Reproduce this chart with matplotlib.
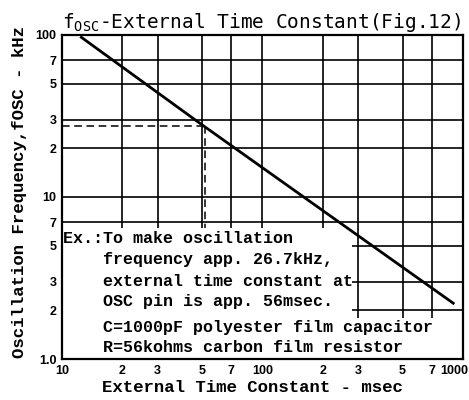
import matplotlib.pyplot as plt
import matplotlib.transforms as mtransforms
from matplotlib.patches import Rectangle

# values
line_t = [12.5, 48.8, 895]        # msec
line_f = [96.8, 28.5, 2.21]       # kHz
ex_t = 52
ex_f = 27.5

x_ticks = [10, 20, 30, 50, 70, 100, 200, 300, 500, 700, 1000]
x_labels = ["10", "2", "3", "5", "7", "100", "2", "3", "5", "7", "1000"]
y_ticks = [1, 2, 3, 5, 7, 10, 20, 30, 50, 70, 100]
y_labels = ["1.0", "2", "3", "5", "7", "10", "2", "3", "5", "7", "100"]

note1 = ["Ex.:To make oscillation",
         "    frequency app. 26.7kHz,",
         "    external time constant at",
         "    OSC pin is app. 56msec."]
note2 = ["    C=1000pF polyester film capacitor",
         "    R=56kohms carbon film resistor"]

plt.rcParams['mathtext.fontset'] = 'custom'
plt.rcParams['mathtext.rm'] = 'DejaVu Sans Mono'

fig = plt.figure(figsize=(4.69, 4.0), dpi=100)
ax = fig.add_axes([0.132, 0.1025, 0.855, 0.81])
ax.set_xscale('log')
ax.set_yscale('log')
ax.set_xlim(10, 1000)
ax.set_ylim(1, 100)

ax.set_xticks(x_ticks)
ax.set_xticklabels(x_labels)
ax.set_yticks(y_ticks)
ax.set_yticklabels(y_labels)
ax.minorticks_off()
ax.tick_params(length=0, pad=4)
for lab in ax.get_xticklabels() + ax.get_yticklabels():
    lab.set_fontfamily('Liberation Sans')
    lab.set_fontweight('bold')
    lab.set_fontsize(9)
# keep the last x label inside the figure
last = ax.get_xticklabels()[-1]
last.set_transform(last.get_transform() +
                   mtransforms.ScaledTranslation(-9 / 100, 0, fig.dpi_scale_trans))

ax.grid(True, color='black', lw=1.2, zorder=1)
for sp in ax.spines.values():
    sp.set_linewidth(1.6)

ax.plot(line_t, line_f, color='black', lw=2.0, zorder=3)
ax.plot([10, ex_t], [ex_f, ex_f], color='black', lw=1.1, dashes=(5, 3), zorder=2)
ax.plot([ex_t, ex_t], [ex_f, 1], color='black', lw=1.1, dashes=(5, 3), zorder=2)

# white patches behind the notes
ax.add_patch(Rectangle((0, 0), 0.723, 0.404, transform=ax.transAxes,
                       facecolor='white', edgecolor='none', zorder=2.2))
ax.add_patch(Rectangle((0, 0), 0.955, 0.127, transform=ax.transAxes,
                       facecolor='white', edgecolor='none', zorder=2.2))

note_font = dict(family='Liberation Mono', weight='bold', fontsize=12,
                 va='center', ha='left', transform=ax.transAxes, zorder=4)
for txt, y in zip(note1, [0.373, 0.306, 0.238, 0.176]):
    ax.text(0.003, y, txt, **note_font)
for txt, y in zip(note2, [0.096, 0.034]):
    ax.text(0.003, y, txt, **note_font)

fig.text(261.5 / 469, 1 - 22 / 400, r"f$_{\mathrm{OSC}}$-External Time Constant(Fig.12)",
         family='DejaVu Sans Mono', fontsize=14, ha='center', va='center')
fig.text(20 / 469, 1 - 192 / 400, "Oscillation Frequency,fOSC - kHz",
         family='Liberation Mono', weight='bold', fontsize=12.5,
         rotation=90, ha='center', va='center')
fig.text(252 / 469, 1 - 387 / 400, "External Time Constant - msec",
         family='Liberation Mono', weight='bold', fontsize=12.5,
         ha='center', va='center')

fig.savefig('out.png', dpi=100)
